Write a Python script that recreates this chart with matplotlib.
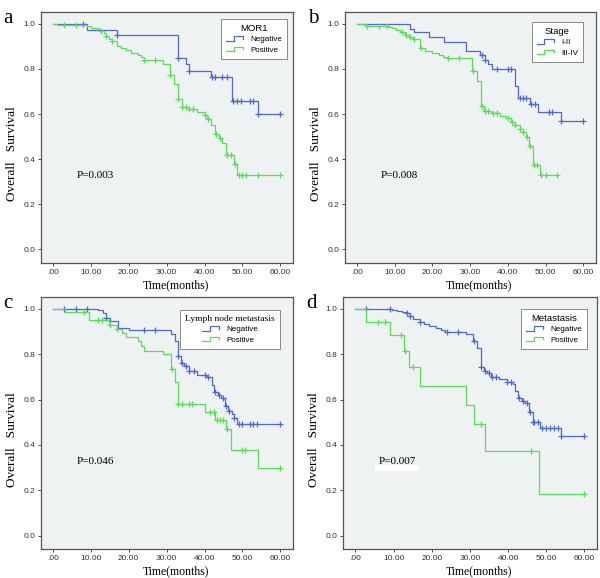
import numpy as np
import matplotlib
matplotlib.use("Agg")
import matplotlib.pyplot as plt
from matplotlib.legend_handler import HandlerBase
from matplotlib.lines import Line2D
from matplotlib.patches import Rectangle

BLUE = "#5069cf"
GREEN = "#5ade5a"
BG = "#eff2f3"
SERIF = "Liberation Serif"
SANS = "Liberation Sans"

# panel a: MOR1
a_neg_t = [0, 9, 17, 33, 35, 36, 41.7, 47.2, 54]
a_neg_s = [1.0, 0.975, 0.951, 0.849, 0.823, 0.793, 0.766, 0.657, 0.601]
a_neg_c = [8, 17, 33, 36, 42, 42.8, 44.7, 45.9, 47.6, 48.5, 49.7, 52, 52.9, 54, 60]
a_pos_t = [0, 1, 9, 10, 12, 12.6, 13.6, 14, 14.9, 15.5, 17, 18, 19.3, 20.7, 22.4, 23.3, 24,
           29, 31, 32, 33, 34, 36, 38, 40, 40.6, 41.8, 42.8, 43.7, 44.6, 45.7, 47.7, 48.7]
a_pos_s = [1.0, 0.993, 0.99, 0.982, 0.977, 0.968, 0.958, 0.948, 0.934, 0.923, 0.904, 0.892, 0.882,
           0.871, 0.862, 0.852, 0.842, 0.823, 0.774, 0.733, 0.665, 0.632, 0.622, 0.61, 0.595, 0.58,
           0.551, 0.51, 0.495, 0.473, 0.417, 0.378, 0.332]
a_pos_c = [3, 6, 12.6, 14, 15.5, 24, 27, 31, 33, 34, 35, 36, 37, 40, 41, 43, 44, 46, 47, 48,
           49, 50, 51, 54, 60]

# panel b: Stage
b_neg_t = [0, 14, 15, 19, 23, 29, 32.7, 33.9, 34.8, 35.9, 41.8, 42.7, 45.8, 48, 54]
b_neg_s = [1.0, 0.978, 0.963, 0.941, 0.92, 0.881, 0.862, 0.84, 0.822, 0.799, 0.726, 0.673,
           0.645, 0.608, 0.568]
b_neg_c = [33, 34, 37, 40.1, 40.8, 43.1, 44, 44.9, 46, 47.3, 50.8, 51.8, 54, 60]
b_pos_t = [0, 2, 8.4, 9.3, 10.2, 11.5, 12.8, 13.9, 14.7, 16.8, 18.1, 19.9, 21.6, 22.9, 23.8,
           30.6, 31.9, 32.8, 33.6, 35.6, 37.8, 39.6, 40.8, 41.8, 43.1, 43.9, 44.8, 45.6, 46.7, 48.6]
b_pos_s = [1.0, 0.992, 0.988, 0.981, 0.973, 0.963, 0.951, 0.944, 0.933, 0.892, 0.88, 0.87,
           0.862, 0.855, 0.847, 0.791, 0.747, 0.636, 0.613, 0.603, 0.592, 0.581, 0.563, 0.551,
           0.536, 0.521, 0.499, 0.458, 0.376, 0.329]
b_pos_c = [2.6, 5.7, 7.9, 11.9, 13, 14, 15, 17, 24, 27, 30.8, 33, 33.9, 34.8, 36.1, 37.2, 40,
           41, 42, 43.3, 44, 45, 45.8, 46.9, 47.8, 48.9, 50, 53]

# panel c: Lymph node metastasis
c_neg_t = [0, 12, 13.2, 13.9, 15.1, 17.2, 20, 31.2, 32.3, 33, 33.9, 34.7, 35.8, 38, 40.6, 42,
           42.6, 43.5, 44.4, 45.5, 46.3, 47.2, 47.8, 48.5]
c_neg_s = [1.0, 0.994, 0.982, 0.96, 0.948, 0.916, 0.905, 0.89, 0.86, 0.791, 0.759, 0.747,
           0.725, 0.71, 0.7, 0.666, 0.632, 0.622, 0.607, 0.57, 0.548, 0.536, 0.519, 0.494]
c_neg_c = [3, 6, 9, 14, 24, 27, 33, 34, 35, 36, 37.1, 40, 41, 42.8, 43.8, 44.8, 45.7, 46.5,
           47.8, 49, 49.9, 52, 52.9, 53.8, 60]
c_pos_t = [0, 3.1, 9.5, 14.9, 17, 18.3, 19.3, 22.4, 23.3, 24, 29, 31.2, 32.3, 33, 40, 42.8,
           45.6, 47, 54]
c_pos_s = [1.0, 0.985, 0.953, 0.928, 0.912, 0.894, 0.875, 0.857, 0.835, 0.816, 0.799, 0.734,
           0.678, 0.58, 0.547, 0.511, 0.469, 0.378, 0.30]
c_pos_c = [8.2, 12, 13, 15, 17, 31.5, 33.1, 34, 36, 36.8, 41.5, 42.4, 43.3, 44.1, 45, 45.9,
           49.9, 50.7, 60]

# panel d: Metastasis
d_neg_t = [0, 9.6, 10.9, 12.2, 13.4, 14.2, 15.1, 16.8, 17.9, 19.3, 21, 22.3, 23.6, 28.9, 30.8,
           31.9, 32.8, 33.7, 34.6, 35.4, 37.6, 39.6, 41.2, 41.8, 42.6, 43.6, 44.5, 45.5, 46.4,
           48.4, 53.9]
d_neg_s = [1.0, 0.997, 0.991, 0.987, 0.98, 0.969, 0.957, 0.942, 0.932, 0.925, 0.916, 0.907,
           0.898, 0.89, 0.858, 0.827, 0.743, 0.724, 0.715, 0.701, 0.689, 0.678, 0.667, 0.639,
           0.608, 0.593, 0.583, 0.546, 0.499, 0.475, 0.441]
d_neg_c = [2.8, 9, 13.6, 14.4, 16.9, 23.9, 26.9, 31, 33, 34, 35, 35.9, 36.9, 39.8, 40.7, 42.8,
           43.8, 44.9, 45.7, 46.6, 46.9, 47.8, 48.9, 49.9, 51, 52, 53, 53.9, 60]
d_pos_t = [0, 2.8, 9, 12.8, 14, 16.9, 29.1, 31, 33.9, 48]
d_pos_s = [1.0, 0.944, 0.883, 0.814, 0.742, 0.658, 0.577, 0.494, 0.372, 0.185]
d_pos_c = [5.8, 7.7, 12, 13, 15, 33, 46, 60]

panels = [
    dict(letter="a", title="MOR1", labels=["Negative", "Positive"], p="P=0.003",
         neg=(a_neg_t, a_neg_s, a_neg_c), pos=(a_pos_t, a_pos_s, a_pos_c),
         rect=[0.068, 0.545, 0.42, 0.434], leg=(0.976, 0.972), serif_title=False),
    dict(letter="b", title="Stage", labels=["I-II", "III-IV"], p="P=0.008",
         neg=(b_neg_t, b_neg_s, b_neg_c), pos=(b_pos_t, b_pos_s, b_pos_c),
         rect=[0.575, 0.545, 0.418, 0.434], leg=(0.948, 0.96), serif_title=False),
    dict(letter="c", title="Lymph node metastasis", labels=["Negative", "Positive"], p="P=0.046",
         neg=(c_neg_t, c_neg_s, c_neg_c), pos=(c_pos_t, c_pos_s, c_pos_c),
         rect=[0.068, 0.050, 0.42, 0.436], leg=(0.948, 0.948), serif_title=True),
    dict(letter="d", title="Metastasis", labels=["Negative", "Positive"], p="P=0.007",
         neg=(d_neg_t, d_neg_s, d_neg_c), pos=(d_pos_t, d_pos_s, d_pos_c),
         rect=[0.572, 0.050, 0.423, 0.436], leg=(0.96, 0.952), serif_title=False),
]


class StepHandler(HandlerBase):
    # little step-shaped symbol like SPSS legends
    def create_artists(self, legend, orig_handle, xdescent, ydescent, width, height, fontsize, trans):
        x = np.array([0.0, 0.4, 0.4, 0.9, 0.9]) * width - xdescent
        y = np.array([0.1, 0.1, 0.9, 0.9, 0.5]) * height - ydescent
        ln = Line2D(x, y, color=orig_handle.get_color(), lw=0.9, transform=trans)
        return [ln]


def draw_km(ax, t, s, cens, color):
    t = np.asarray(t, float)
    s = np.asarray(s, float)
    end = max(max(cens), t[-1])
    ax.step(np.append(t, end), np.append(s, s[-1]), where="post", color=color, lw=0.9)
    idx = np.searchsorted(t, cens, side="right") - 1
    ax.plot(cens, s[idx], "+", color=color, ms=4.5, mew=0.9)


fig = plt.figure(figsize=(6, 5.78), dpi=100)

for pn in panels:
    ax = fig.add_axes(pn["rect"])
    ax.set_facecolor(BG)
    draw_km(ax, *pn["neg"], BLUE)
    draw_km(ax, *pn["pos"], GREEN)
    ax.set_xlim(-3.2, 63.3)
    ax.set_ylim(-0.06, 1.052)
    ax.set_xticks(range(0, 61, 10))
    ax.set_xticklabels([".00"] + ["%d.00" % v for v in range(10, 61, 10)])
    ax.set_yticks(np.arange(0, 1.01, 0.2))
    ax.set_yticklabels(["%.1f" % v for v in np.arange(0, 1.01, 0.2)])
    ax.tick_params(labelsize=6, length=2.5, width=0.6, colors="#333333", pad=1.5)
    for lab in ax.get_xticklabels() + ax.get_yticklabels():
        lab.set_fontfamily(SANS)
    for sp in ax.spines.values():
        sp.set_color("#555555")
        sp.set_linewidth(0.9)
    ax.set_xlabel("Time(months)", family=SERIF, fontsize=8.5)
    ax.set_ylabel("Overall   Survival", family=SERIF, fontsize=9.5)
    ax.xaxis.set_label_coords(0.535, -0.064)
    ax.yaxis.set_label_coords(-0.09, 0.435)

    if pn["letter"] == "d":
        ax.add_patch(Rectangle((5.1, 0.283), 11.6, 0.026, color="white", lw=0, zorder=2))
    ax.text(6.2, 0.328, pn["p"], family=SERIF, fontsize=8, va="center", ha="left", zorder=3)

    handles = [Line2D([], [], color=BLUE), Line2D([], [], color=GREEN)]
    leg = ax.legend(handles, pn["labels"], title=pn["title"], loc="upper right",
                    bbox_to_anchor=pn["leg"], borderaxespad=0, fancybox=False,
                    edgecolor="#888888", framealpha=1, fontsize=5.8,
                    handler_map={Line2D: StepHandler()}, handlelength=2.4,
                    handletextpad=0.6, labelspacing=0.35, borderpad=0.6)
    leg.get_frame().set_linewidth(0.7)
    leg.get_title().set_fontfamily(SERIF if pn["serif_title"] else SANS)
    leg.get_title().set_fontsize(6.8)
    for txt in leg.get_texts():
        txt.set_fontfamily(SANS)

    x0, y0, w, h = pn["rect"]
    fig.text(x0 - 0.062, y0 + h + 0.005, pn["letter"], family=SERIF, fontsize=15,
             va="top", ha="left")

fig.savefig("out.png", dpi=100, facecolor="white")
